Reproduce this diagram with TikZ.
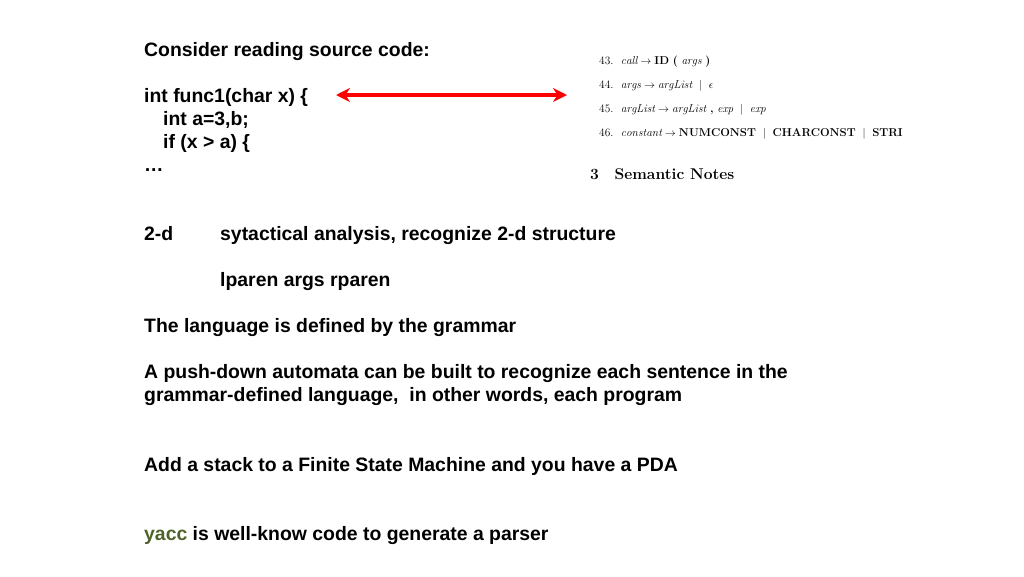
\documentclass[tikz,border=0pt]{standalone}
\usepackage{fontspec}
\newfontfamily\arialb[]{Liberation Sans}
\usetikzlibrary{arrows.meta}
\definecolor{yaccgreen}{RGB}{79,98,40}
\begin{document}
\begin{tikzpicture}[x=1pt,y=-1pt,
  txt/.style={anchor=base west,inner sep=0pt,font=\arialb\bfseries\fontsize{19.4}{23}\selectfont},
  gram/.style={anchor=west,inner sep=0pt,font=\fontsize{11.4}{13}\selectfont},
  sec/.style={anchor=west,inner sep=0pt,font=\bfseries\fontsize{15.6}{18}\selectfont}]
\useasboundingbox (0,0) rectangle (1024,576);
\node[txt] (t1) at (144,56) {Consider reading source code:};
\node[txt] (t2) at (144,102) {int func1(char x) \{};
\node[txt] (t3) at (163,125) {int a=3,b;};
\node[txt] (t4) at (163,148) {if (x > a) \{};
\node[txt] (t5) at (144,171) {\dots};
\node[txt] (t6) at (144,240) {2-d};
\node[txt] (t7) at (220,240) {sytactical analysis, recognize 2-d structure};
\node[txt] (t8) at (220,286) {lparen args rparen};
\node[txt] (t9) at (144,332) {The language is defined by the grammar};
\node[txt] (t10) at (144,378) {A push-down automata can be built to recognize each sentence in the};
\node[txt] (t11) at (144,401) {grammar-defined language,\ \ in other words, each program};
\node[txt] (t12) at (144,471) {Add a stack to a Finite State Machine and you have a PDA};
\node[txt] (t13) at (144,540) {\textcolor{yaccgreen}{yacc} is well-know code to generate a parser};
\node[gram] (g1) at (599,62) {43.\ \ $\mathit{call}\rightarrow\textbf{ID}\ \textbf{(}\ \mathit{args}\ \textbf{)}$};
\node[gram] (g2) at (599,86) {44.\ \ $\mathit{args}\rightarrow\mathit{argList}\ \mid\ \epsilon$};
\node[gram] (g3) at (599,110) {45.\ \ $\mathit{argList}\rightarrow\mathit{argList}\ \textbf{,}\ \mathit{exp}\ \mid\ \mathit{exp}$};
\node[gram] (g4) at (599,134) {46.\ \ $\mathit{constant}\rightarrow\textbf{NUMCONST}\ \mid\ \textbf{CHARCONST}\ \mid\ \textbf{STRI}$};
\node[sec] (s1) at (590,174) {3\quad Semantic Notes};
\coordinate (aL) at (336,95);
\coordinate (aR) at (567,95);
\draw[red,line width=4pt,{Stealth[length=14pt,width=14pt]}-{Stealth[length=14pt,width=14pt]}] (aL) -- (aR);
\end{tikzpicture}
\end{document}
